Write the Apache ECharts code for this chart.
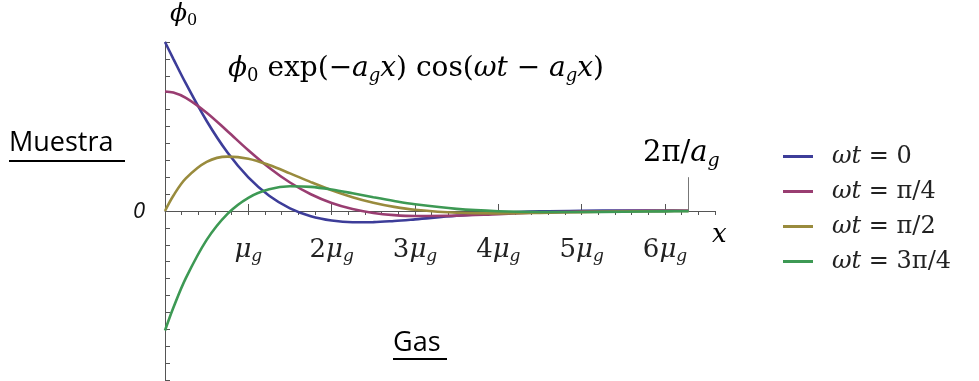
<!DOCTYPE html>
<html>
<head>
<meta charset="utf-8">
<script src="https://cdn.jsdelivr.net/npm/echarts@6/dist/echarts.min.js"></script>
<style>
  html, body { margin: 0; padding: 0; background: #fff; }
  #chart { width: 979px; height: 381px; }
</style>
</head>
<body>
<div id="chart"></div>
<script>
// x in units of mu_g, phi in units of phi_0
const xs = [0, 0.1, 0.25, 0.5, 0.75, 1, 1.25, 1.5, 1.75, 2, 2.25, 2.5, 2.75, 3, 3.5, 4, 4.5, 5, 5.5, 6, 6.2832]
const wt0 = [1, 0.9003, 0.7546, 0.5323, 0.3457, 0.1988, 0.0903, 0.0158, -0.0310, -0.0563, -0.0662, -0.0658, -0.0591, -0.0493, -0.0283, -0.0120, -0.0023, 0.0019, 0.0029, 0.0024, 0.0019]
const wt1 = [0.7071, 0.7005, 0.6698, 0.5820, 0.4721, 0.3595, 0.2561, 0.1685, 0.0990, 0.0472, 0.0112, -0.0118, -0.0245, -0.0299, -0.0275, -0.0183, -0.0093, -0.0032, 0.0000, 0.0012, 0.0013]
const wt2 = [0, 0.0903, 0.1927, 0.2908, 0.3220, 0.3096, 0.2719, 0.2225, 0.1710, 0.1230, 0.0820, 0.0491, 0.0244, 0.0070, -0.0106, -0.0139, -0.0109, -0.0064, -0.0029, -0.0007, 0]
const wt3 = [-0.7071, -0.5728, -0.3973, -0.1708, -0.0168, 0.0783, 0.1284, 0.1462, 0.1428, 0.1268, 0.1048, 0.0812, 0.0590, 0.0398, 0.0125, -0.0013, -0.0061, -0.0059, -0.0041, -0.0022, -0.0013]
const names = ['ωt = 0', 'ωt = π/4', 'ωt = π/2', 'ωt = 3π/4']
const legendRight = ['= 0', '= π/4', '= π/2', '= 3π/4']
const xTickNames = ['', 'μ', '2μ', '3μ', '4μ', '5μ', '6μ']
const colors = ['#3d3d99', '#993d71', '#998b3d', '#3d9954']
const period = 6.2832

const serif = 'DejaVu Serif'
const pair = (ys) => xs.map((x, i) => [x, ys[i]])

const chart = echarts.init(document.getElementById('chart'))

function mathRich(size) {
  const sub = Math.round(size * 0.65)
  const pad = [Math.round(size * 0.5), 0, 0, 0]
  return {
    i: { fontFamily: serif, fontStyle: 'italic', fontSize: size, color: '#222' },
    r: { fontFamily: serif, fontSize: size, color: '#222' },
    s: { fontFamily: serif, fontStyle: 'italic', fontSize: sub, color: '#222', verticalAlign: 'bottom', padding: pad },
    z: { fontFamily: serif, fontSize: sub, color: '#222', verticalAlign: 'bottom', padding: pad }
  }
}

const series = [wt0, wt1, wt2, wt3].map((ys, k) => ({
  name: names[k],
  type: 'line',
  data: pair(ys),
  smooth: 0.35,
  symbol: 'none',
  lineStyle: { color: colors[k], width: 2.6 },
  itemStyle: { color: colors[k] },
  z: 2 + k
}))

series[0].markLine = {
  silent: true,
  symbol: 'none',
  label: { show: false },
  lineStyle: { color: '#777', width: 1, type: 'solid' },
  data: [[{ coord: [period, 0] }, { coord: [period, 0.2] }]]
}

const axisCol = '#555'
// grid 42..380 spans -1..1, so zero sits 169px above the bottom edge
const zeroOffset = -169

chart.setOption({
  animation: false,
  color: colors,
  grid: { left: 165, top: 42, width: 550, bottom: 1, outerBoundsMode: 'none' },
  legend: {
    orient: 'vertical',
    left: 778,
    top: 139,
    icon: 'rect',
    itemWidth: 30,
    itemHeight: 3,
    itemGap: 10,
    data: names,
    formatter: (n) => '{i|ωt}{r| ' + legendRight[names.indexOf(n)] + '}',
    textStyle: {
      padding: [0, 0, 0, 14],
      lineHeight: 25,
      rich: mathRich(24)
    }
  },
  xAxis: [
    {
      type: 'value',
      min: 0,
      max: 6.6,
      interval: 1,
      offset: zeroOffset,
      axisLine: { onZero: false, lineStyle: { color: axisCol, width: 1 } },
      axisTick: { inside: true, length: 7, lineStyle: { color: axisCol } },
      splitLine: { show: false },
      axisLabel: {
        margin: 24,
        showMaxLabel: false,
        formatter: (v) => {
          const t = xTickNames[Math.round(v)]
          if (!t) return ''
          return (t.length > 1 ? '{r|' + t[0] + '}' : '') + '{i|μ}{s|g}'
        },
        rich: mathRich(26)
      }
    },
    {
      type: 'value',
      min: 0,
      max: 6.6,
      interval: 0.2,
      offset: zeroOffset,
      axisLine: { onZero: false, show: false },
      axisTick: { show: true, inside: true, length: 4, lineStyle: { color: axisCol } },
      splitLine: { show: false },
      axisLabel: { show: false }
    }
  ],
  yAxis: {
    type: 'value',
    min: -1,
    max: 1,
    interval: 0.1,
    axisLine: { lineStyle: { color: axisCol, width: 1 } },
    axisTick: { inside: true, length: 5, lineStyle: { color: axisCol } },
    splitLine: { show: false },
    axisLabel: { show: false }
  },
  graphic: [
    { type: 'text', left: 170, top: 2, style: { text: '{i|ϕ}{z|0}', rich: mathRich(25) } },
    { type: 'text', left: 133, top: 201, style: { text: '0', fontFamily: 'Open Sans', fontStyle: 'italic', fontSize: 22, fill: '#111' } },
    { type: 'text', left: 712, top: 222, style: { text: '{i|x}', rich: mathRich(26) } },
    { type: 'text', left: 643, top: 139, style: { text: '{r|2π/}{i|a}{s|g}', rich: mathRich(29) } },
    {
      type: 'text', left: 228, top: 55,
      style: { text: '{i|ϕ}{z|0}{r| exp(−}{i|a}{s|g}{i|x}{r|) cos(}{i|ωt}{r| − }{i|a}{s|g}{i|x}{r|)}', rich: mathRich(28) }
    },
    { type: 'text', left: 9, top: 130, style: { text: 'Muestra', fontFamily: 'Open Sans', fontSize: 27, fill: '#000' } },
    { type: 'line', shape: { x1: 9, y1: 161, x2: 125, y2: 161 }, style: { stroke: '#000', lineWidth: 2 } },
    { type: 'text', left: 393, top: 330, style: { text: 'Gas', fontFamily: 'Open Sans', fontSize: 27, fill: '#000' } },
    { type: 'line', shape: { x1: 393, y1: 359, x2: 447, y2: 359 }, style: { stroke: '#000', lineWidth: 2 } }
  ],
  series
})
</script>
</body>
</html>
